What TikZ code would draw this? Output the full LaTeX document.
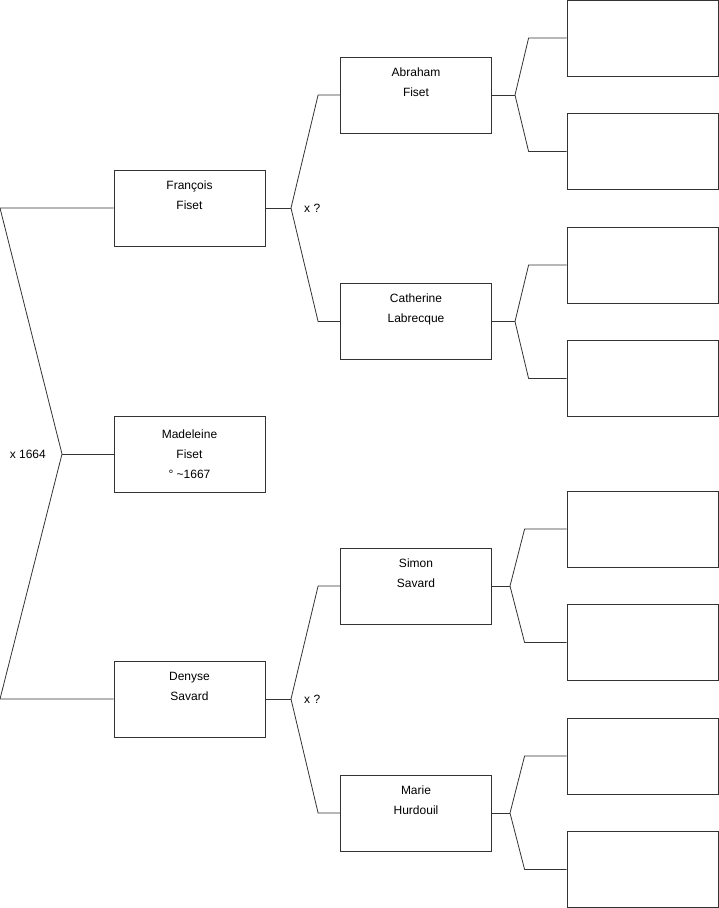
\documentclass[tikz,border=0pt]{standalone}
\usepackage{fontspec}
\setmainfont{Liberation Sans}
\usepackage{xcolor}
\usepackage{tikz}
\usetikzlibrary{positioning,calc}
\definecolor{linegray}{HTML}{333333}

\begin{document}
\begin{tikzpicture}[x=1pt, y=-1pt,
    person/.style={rectangle, draw=linegray, fill=white, line width=0.8pt, minimum width=151pt, minimum height=76pt, inner sep=0pt, align=center, font=\fontsize{12}{20}\selectfont},
    link/.style={draw=linegray, line width=0.8pt},
    union/.style={font=\fontsize{12}{14}\selectfont, inner sep=0pt}
]
    \useasboundingbox (0,0) rectangle (719,908);

    % Madeleine
    \node[person] (mad) at (189.5,454) {Madeleine\\Fiset\\° \textasciitilde1667};

    % parents
    \node[person] (fra) at (189.5,208) {François\\Fiset\\\strut};
    \node[person] (den) at (189.5,699) {Denyse\\Savard\\\strut};

    % grandparents
    \node[person] (abr) at (416,95) {Abraham\\Fiset\\\strut};
    \node[person] (cat) at (416,321.5) {Catherine\\Labrecque\\\strut};
    \node[person] (sim) at (416,586) {Simon\\Savard\\\strut};
    \node[person] (mar) at (416,813) {Marie\\Hurdouil\\\strut};

    % great-grandparents (empty)
    \foreach \i/\y in {1/38, 2/151.5, 3/265, 4/378.5, 5/529, 6/642.5, 7/756, 8/869.5}
        \node[person] (e\i) at (642.5,\y) {};

    % fork points
    \coordinate (fm) at (62,454);
    \coordinate (ff) at (291,208);
    \coordinate (fd) at (291,699);
    \coordinate (fa) at (515,95);
    \coordinate (fc) at (515,321.5);
    \coordinate (fs) at (510,586);
    \coordinate (fh) at (510,813);

    % Relationships
    \draw[link] (mad.west) -- (fm);
    \draw[link] (fra.west) -- (0,208) -- (fm) -- (0,699) -- (den.west);
    \node[union, left=16pt of fm] (um) {x 1664};

    \draw[link] (fra.east) -- (ff);
    \draw[link] (abr.west) -- ($(abr.west)+(-22,0)$) -- (ff) -- ($(cat.west)+(-22,0)$) -- (cat.west);
    \node[union, right=13pt of ff] (uf) {x ?};

    \draw[link] (den.east) -- (fd);
    \draw[link] (sim.west) -- ($(sim.west)+(-22,0)$) -- (fd) -- ($(mar.west)+(-22,0)$) -- (mar.west);
    \node[union, right=13pt of fd] (ud) {x ?};

    \draw[link] (abr.east) -- (fa);
    \draw[link] (e1.west) -- ($(e1.west)+(-38,0)$) -- (fa) -- ($(e2.west)+(-38,0)$) -- (e2.west);

    \draw[link] (cat.east) -- (fc);
    \draw[link] (e3.west) -- ($(e3.west)+(-38,0)$) -- (fc) -- ($(e4.west)+(-38,0)$) -- (e4.west);

    \draw[link] (sim.east) -- (fs);
    \draw[link] (e5.west) -- ($(e5.west)+(-42,0)$) -- (fs) -- ($(e6.west)+(-42,0)$) -- (e6.west);

    \draw[link] (mar.east) -- (fh);
    \draw[link] (e7.west) -- ($(e7.west)+(-42,0)$) -- (fh) -- ($(e8.west)+(-42,0)$) -- (e8.west);
\end{tikzpicture}
\end{document}
